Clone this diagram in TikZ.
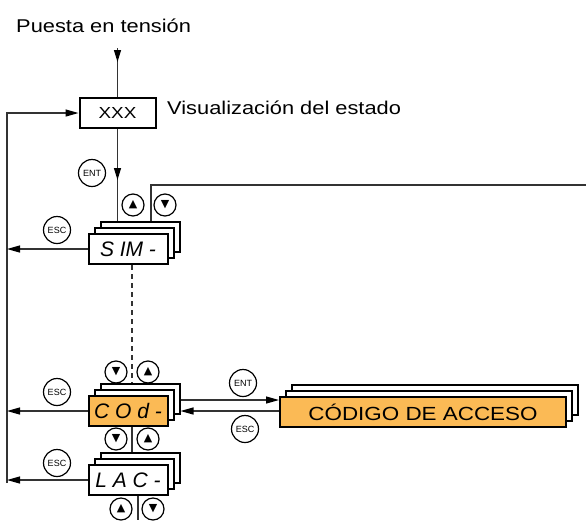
\documentclass[tikz,border=0pt]{standalone}
\usepackage{fontspec}
\setmainfont{Liberation Sans}[FakeStretch=1.18]
\newfontfamily\dispfont{Liberation Sans}
\newfontfamily\btnfont{Liberation Sans}
\newfontfamily\symfont{DejaVu Sans}
\usepackage{tikz}
\usetikzlibrary{arrows.meta,decorations.markings}
\definecolor{menuor}{HTML}{FBBA55}
\definecolor{wire}{HTML}{333333}

\begin{document}
\begin{tikzpicture}[
  x=1pt, y=-1pt,
  >={Triangle[length=13pt,width=7pt,color=black]},
  txt/.style={font=\fontsize{18.5}{20}\selectfont, inner sep=0pt},
  disp/.style={draw, line width=2pt, fill=white, minimum width=79pt, minimum height=30pt, inner sep=0pt, font=\dispfont\itshape\fontsize{21}{21}\selectfont},
  btn/.style={circle, draw, line width=1.2pt, fill=white, minimum size=27pt, inner sep=0pt, font=\btnfont\fontsize{9}{9}\selectfont},
  arrbtn/.style={btn, minimum size=22pt, font=\symfont\fontsize{11}{11}\selectfont},
  ln/.style={draw=wire, line width=1.2pt},
  arr/.style={ln, ->},
  midtip/.style={postaction={decorate}, decoration={markings, mark=at position #1 with {\arrow{Triangle[length=12pt,width=7pt,color=black]}}}}]
\useasboundingbox (0,0) rectangle (586,520);
\node[txt, anchor=base west] (pwrtxt) at (16,32) {Puesta en tensión};
\node[draw, line width=2pt, minimum width=76pt, minimum height=30pt, inner sep=0pt, font=\fontsize{16}{16}\selectfont] (xxx) at (117.5,113) {XXX};
\node[txt, anchor=base west] (state) at (167,114) {Visualización del estado};
\foreach \n/\x/\y in {sin/128/249, cod/128/411, lac/128/480}
  \foreach \k in {2,1}
    \node[disp] (\n\k) at (\x+6*\k,\y-6*\k) {};
\node[disp] (sin) at (128,249) {S IM -};
\node[disp, fill=menuor] (cod) at (128,411) {C O d -};
\node[disp] (lac) at (128,480) {L A C -};
\foreach \k in {2,1}
  \node[disp, minimum width=286pt] (code\k) at (423+6*\k,412-6*\k) {};
\node[disp, minimum width=286pt, fill=menuor, font=\fontsize{19}{20}\selectfont] (code) at (423,412) {CÓDIGO DE ACCESO};
\node[btn] (ent1) at (92,173) {ENT};
\node[arrbtn] (sinup) at (133,205) {▲};
\node[arrbtn] (sindn) at (165,205) {▼};
\node[btn] (esc1) at (57,230) {ESC};
\node[arrbtn] (coddn1) at (116,372) {▼};
\node[arrbtn] (codup1) at (148,372) {▲};
\node[btn] (esc2) at (57,392) {ESC};
\node[btn] (ent2) at (243,383) {ENT};
\node[btn] (esc3) at (245,429) {ESC};
\node[arrbtn] (coddn2) at (116,439) {▼};
\node[arrbtn] (codup2) at (148,439) {▲};
\node[btn] (esc4) at (57,463) {ESC};
\node[arrbtn] (lacup) at (121,509) {▲};
\node[arrbtn] (lacdn) at (153,509) {▼};
\coordinate (pwr) at (117.5,48);
\coordinate (lft) at (7,483);
\coordinate (rgt) at (586,185);
\coordinate (bot) at (138,520);
\draw[ln, midtip=14pt] (pwr) -- (xxx.north);
\draw[ln, midtip=51pt] (xxx.south) -- (xxx.south |- sin2.north);
\draw[ln] ([xshift=11pt]sin2.north) |- (rgt);
\draw[arr] (lft) |- (xxx.west);
\draw[arr] (sin.west) -- (sin.west -| lft);
\draw[ln, dashed, dash pattern=on 5pt off 4pt] ([xshift=4pt]sin.south) -- ([xshift=4pt]sin.south |- cod2.north);
\draw[arr] (cod.west) -- (cod.west -| lft);
\draw[ln] ([xshift=4pt]cod.south) -- ([xshift=4pt]cod.south |- lac2.north);
\draw[arr] (lac.west) -- (lac.west -| lft);
\draw[ln] (lac.south -| bot) -- (bot);
\draw[arr] ([yshift=-1pt]cod2.east) -- ([yshift=-1pt]cod2.east -| code.west);
\draw[arr] ([yshift=1pt]code.west) -- ([yshift=1pt]code.west -| cod2.east);
\end{tikzpicture}
\end{document}
